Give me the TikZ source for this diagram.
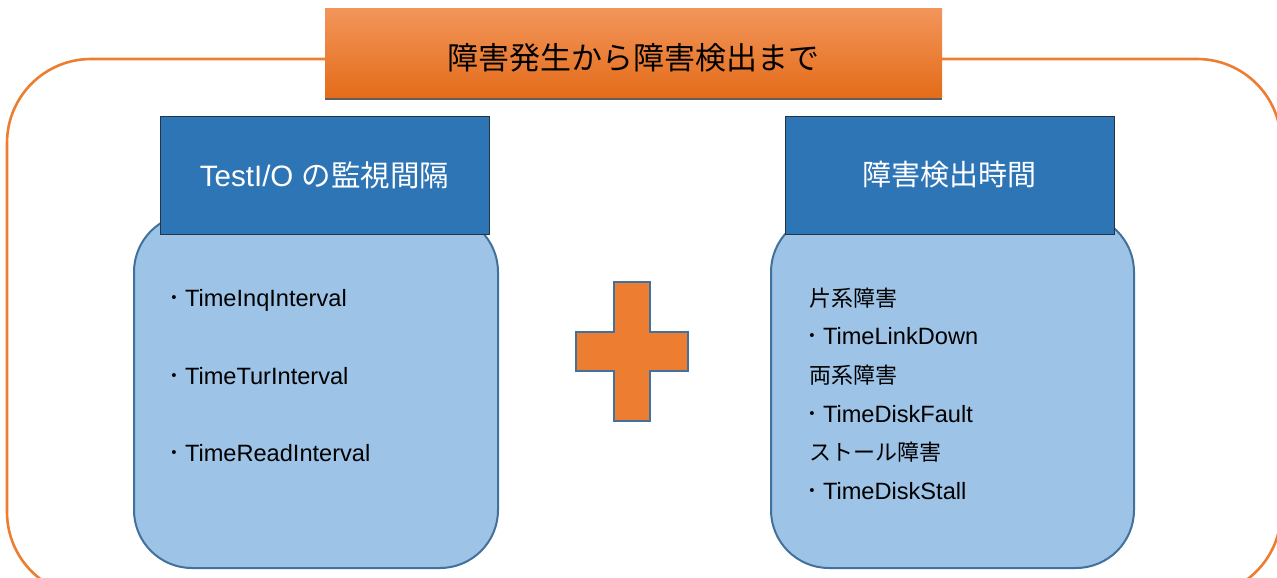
\documentclass[tikz,border=0pt]{standalone}
\usepackage{fontspec}
\setmainfont{Liberation Sans}
\newfontfamily\cjk{Noto Sans CJK JP}
\definecolor{outerorange}{HTML}{ED7D31}
\definecolor{titletop}{HTML}{F2955A}
\definecolor{titlebot}{HTML}{E46C1A}
\definecolor{hdrblue}{HTML}{2E75B6}
\definecolor{hdrborder}{HTML}{243447}
\definecolor{lightblue}{HTML}{9DC3E6}
\definecolor{boxborder}{HTML}{41719C}
\definecolor{shadowgray}{HTML}{5F5F5F}
\tikzset{
  outerbox/.style={draw=outerorange, line width=2.6pt, rounded corners=84pt},
  bodybox/.style={draw=boxborder, fill=lightblue, line width=2pt, rounded corners=58pt},
  hdrbox/.style={draw=hdrborder, fill=hdrblue, line width=1pt},
  hdrtext/.style={text=white, font=\fontsize{29.5}{33}\selectfont, inner sep=0pt},
  itemtext/.style={anchor=base west, inner sep=0pt, font=\fontsize{23.6}{27}\selectfont},
  jptext/.style={anchor=base west, inner sep=0pt, font=\cjk\fontsize{22}{26}\selectfont},
  plusshape/.style={draw=boxborder, fill=outerorange, line width=2.4pt},
}
\newcommand{\pdot}{{\cjk ･}\kern5pt}
\begin{document}
\begin{tikzpicture}[x=1pt,y=-1pt]
\useasboundingbox (0,0) rectangle (1277,578);
\clip (0,0) rectangle (1277,578);
\fill[white] (0,0) rectangle (1277,578);
% outer frame
\draw[outerbox] (7,59) rectangle (1281,596);
% title
\fill[shadowgray] (325,96) rectangle (942,100);
\shade[top color=titletop, bottom color=titlebot] (325,9) rectangle (942,97);
\node[inner sep=0pt, font=\cjk\fontsize{31}{34}\selectfont] (title) at (633.5,58) {障害発生から障害検出まで};
% left body
\draw[bodybox] (134,214) rectangle (498,568);
% right body
\draw[bodybox] (771,214) rectangle (1134,568);
% headers
\draw[hdrbox] (160,116) rectangle (489,234);
\node[hdrtext] (hl) at (324.5,175) {TestI/O {\cjk の監視間隔}};
\draw[hdrbox] (785,116) rectangle (1114,234);
\node[hdrtext, font=\cjk\fontsize{29}{32}\selectfont] (hr) at (949.5,175) {障害検出時間};
% left items
\node[itemtext] (l1) at (168,306) {\pdot TimeInqInterval};
\node[itemtext] (l2) at (168,384) {\pdot TimeTurInterval};
\node[itemtext] (l3) at (168,461) {\pdot TimeReadInterval};
% right items
\node[jptext] (r1) at (809,306) {片系障害};
\node[itemtext] (r2) at (806,344) {\pdot TimeLinkDown};
\node[jptext] (r3) at (809,383) {両系障害};
\node[itemtext] (r4) at (806,422) {\pdot TimeDiskFault};
\node[jptext] (r5) at (809,460) {ストール障害};
\node[itemtext] (r6) at (806,499) {\pdot TimeDiskStall};
% plus
\draw[plusshape] (614,282) -- (650,282) -- (650,332) -- (688,332) -- (688,371) -- (650,371)
  -- (650,421) -- (614,421) -- (614,371) -- (576,371) -- (576,332) -- (614,332) -- cycle;
\end{tikzpicture}
\end{document}
